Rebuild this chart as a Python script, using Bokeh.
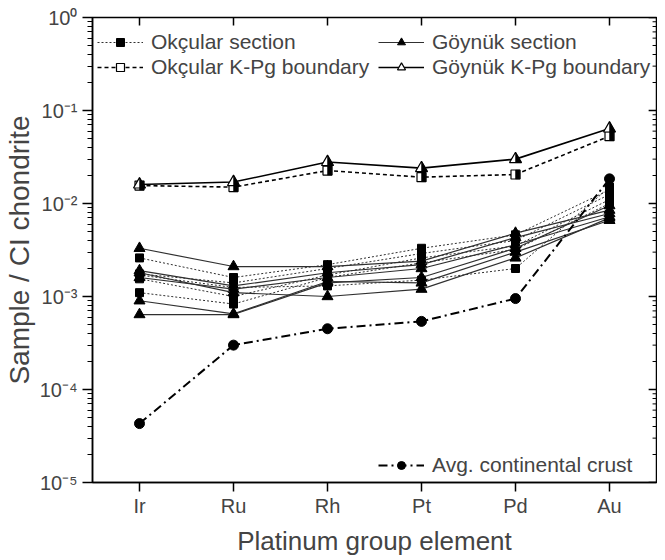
import math
from bokeh.plotting import figure
from bokeh.models import Range1d, FixedTicker, Legend, LegendItem
from bokeh.embed import file_html
from bokeh.resources import INLINE

# ---------------- data ----------------
elements = ["Ir", "Ru", "Rh", "Pt", "Pd", "Au"]

okcular_section = [
    [2.6e-3, 1.6e-3, 2.2e-3, 3.3e-3, 4.6e-3, 1.40e-2],
    [1.75e-3, 1.4e-3, 2.0e-3, 2.9e-3, 4.0e-3, 1.25e-2],
    [1.55e-3, 1.0e-3, 1.7e-3, 2.6e-3, 3.5e-3, 1.10e-2],
    [1.1e-3, 8.3e-4, 1.6e-3, 2.3e-3, 3.2e-3, 1.00e-2],
    [1.7e-3, 1.25e-3, 1.3e-3, 1.5e-3, 2.0e-3, 1.50e-2],
]
goynuk_section = [
    [3.3e-3, 2.1e-3, 2.1e-3, 2.4e-3, 4.8e-3, 8.5e-3],
    [1.9e-3, 1.3e-3, 1.8e-3, 2.2e-3, 4.3e-3, 7.8e-3],
    [1.6e-3, 1.2e-3, 1.6e-3, 2.0e-3, 3.6e-3, 7.2e-3],
    [9.0e-4, 6.5e-4, 1.45e-3, 1.4e-3, 3.0e-3, 6.6e-3],
    [6.4e-4, 6.4e-4, 1.4e-3, 1.6e-3, 3.3e-3, 9.5e-3],
    [1.8e-3, 1.1e-3, 1.0e-3, 1.2e-3, 2.6e-3, 7.0e-3],
]
okcular_kpg = [1.56e-2, 1.50e-2, 2.26e-2, 1.92e-2, 2.05e-2, 5.3e-2]
goynuk_kpg = [1.60e-2, 1.70e-2, 2.79e-2, 2.40e-2, 3.00e-2, 6.4e-2]
crust = [4.3e-5, 3.0e-4, 4.5e-4, 5.4e-4, 9.5e-4, 1.84e-2]

y_tick_values = [1e-5, 1e-4, 1e-3, 1e-2, 1e-1, 1.0]
y_tick_labels = ["10\u207b\u2075", "10\u207b\u2074", "10\u207b\u00b3", "10\u207b\u00b2", "10\u207b\u00b9", "10\u2070"]

x_pos = list(range(len(elements)))

# ---------------- layout ----------------
X_START, X_END = -0.5, 5.5
Y_START, Y_END = 1e-5, 1.0

W, H = 657, 558
ML, MR, MT = 82, 1, 17
FH = 466
MB = H - MT - FH
FW = W - ML - MR
ppu = FW / (X_END - X_START)                       # pixels per category unit
ppd = FH / math.log10(Y_END / Y_START)             # pixels per decade

FONT = "Liberation Sans"

p = figure(width=W, height=H, x_range=Range1d(X_START, X_END), y_range=Range1d(Y_START, Y_END),
           y_axis_type="log", output_backend="svg", toolbar_location=None,
           min_border_left=ML, min_border_right=MR, min_border_top=MT, min_border_bottom=MB)
p.xgrid.visible = False
p.ygrid.visible = False
p.outline_line_color = "black"
p.outline_line_width = 1.5
p.background_fill_color = "white"
p.border_fill_color = "white"

minor = [m * 10.0 ** e for e in range(-5, 0) for m in range(2, 10)]

# left axis
ya = p.yaxis[0]
ya.ticker = FixedTicker(ticks=y_tick_values, minor_ticks=minor)
ya.major_label_overrides = dict(zip(y_tick_values, y_tick_labels))
ya.major_tick_out = 10
ya.major_tick_in = 0
ya.minor_tick_out = 5
ya.minor_tick_in = 0
ya.axis_line_width = 1.5
ya.major_tick_line_width = 1.5
ya.major_label_text_font = FONT
ya.major_label_text_font_size = "20px"
ya.major_label_standoff = 5
ya.axis_label = "Sample / CI chondrite"
ya.axis_label_text_font = FONT
ya.axis_label_text_font_size = "28px"
ya.axis_label_text_font_style = "normal"
ya.axis_label_standoff = 2

# bottom axis
xa = p.xaxis[0]
xa.ticker = FixedTicker(ticks=x_pos)
xa.major_label_overrides = dict(zip(x_pos, elements))
xa.major_tick_out = 9
xa.major_tick_in = 0
xa.minor_tick_out = 0
xa.axis_line_width = 1.5
xa.major_tick_line_width = 1.5
xa.major_label_text_font = FONT
xa.major_label_text_font_size = "20px"
xa.major_label_standoff = 3
xa.axis_label = "Platinum group element"
xa.axis_label_text_font = FONT
xa.axis_label_text_font_size = "26px"
xa.axis_label_text_font_style = "normal"
xa.axis_label_standoff = 6

# mirrored inward ticks on the top and right frame edges (from the tick lists)
TOP_TICK, RIGHT_MAJOR, RIGHT_MINOR = 8, 8, 4
p.segment(x0=x_pos, x1=x_pos, y0=[Y_END] * len(x_pos),
          y1=[Y_END * 10 ** (-TOP_TICK / ppd)] * len(x_pos), line_color="black", line_width=1.5)
p.segment(x0=[X_END] * len(y_tick_values), x1=[X_END - RIGHT_MAJOR / ppu] * len(y_tick_values),
          y0=y_tick_values, y1=y_tick_values, line_color="black", line_width=1.5)
p.segment(x0=[X_END] * len(minor), x1=[X_END - RIGHT_MINOR / ppu] * len(minor),
          y0=minor, y1=minor, line_color="black", line_width=1)

# ---------------- series ----------------
SEC = "#303030"
ok_items, gy_items = [], []

first = None
for vals in okcular_section:
    l = p.line(x_pos, vals, line_color=SEC, line_width=1, line_dash="2 2")
    m = p.scatter(x_pos, vals, marker="square", size=8, fill_color="black", line_color="black")
    if first is None:
        first = [l, m]
ok_items.append(LegendItem(label="Okçular section", renderers=first))

first = None
for vals in goynuk_section:
    l = p.line(x_pos, vals, line_color=SEC, line_width=1.2)
    m = p.scatter(x_pos, vals, marker="triangle", size=11, fill_color="black", line_color="black")
    if first is None:
        first = [l, m]
gy_items.append(LegendItem(label="Göynük section", renderers=first))

# K-Pg boundary series (half-filled markers)
SQ = 9
TR = 12
l1 = p.line(x_pos, okcular_kpg, line_color="black", line_width=1.6, line_dash="4 3")
m1 = p.scatter(x_pos, okcular_kpg, marker="square", size=SQ, fill_color="white", line_color="black", line_width=1.2)
r = SQ / 2.0
p.quad(left=x_pos, right=[x + r / ppu for x in x_pos],
       top=[v * 10 ** (r / ppd) for v in okcular_kpg],
       bottom=[v * 10 ** (-r / ppd) for v in okcular_kpg],
       fill_color="black", line_color="black", line_width=0.5)
ok_items.append(LegendItem(label="Okçular K-Pg boundary", renderers=[l1, m1]))

l2 = p.line(x_pos, goynuk_kpg, line_color="black", line_width=1.6)
m2 = p.scatter(x_pos, goynuk_kpg, marker="triangle", size=TR, fill_color="white", line_color="black", line_width=1.2)
r = TR / 2.0
h = r * math.sqrt(3)
a = h / 3.0
p.patches(xs=[[x, x, x + r / ppu] for x in x_pos],
          ys=[[v * 10 ** ((h - a) / ppd), v * 10 ** (-a / ppd), v * 10 ** (-a / ppd)] for v in goynuk_kpg],
          fill_color="black", line_color="black", line_width=0.5)
gy_items.append(LegendItem(label="Göynük K-Pg boundary", renderers=[l2, m2]))

# Average continental crust
l3 = p.line(x_pos, crust, line_color="black", line_width=2, line_dash="9 4 2 4")
m3 = p.scatter(x_pos, crust, marker="circle", size=10, fill_color="black", line_color="black")
crust_items = [LegendItem(label="Avg. continental crust", renderers=[l3, m3])]


def style(leg):
    leg.background_fill_alpha = 0
    leg.border_line_alpha = 0
    leg.padding = 0
    leg.margin = 0
    leg.spacing = 1
    leg.glyph_width = 46
    leg.glyph_height = 20
    leg.label_standoff = 8
    leg.label_text_font = FONT
    leg.label_text_font_size = "21px"
    leg.label_height = 20
    return leg


p.add_layout(style(Legend(items=ok_items, location=(5, 403))))
p.add_layout(style(Legend(items=gy_items, location=(286, 403))))
p.add_layout(style(Legend(items=crust_items, location=(286, 5))))

open("out.html", "w").write(file_html(p, INLINE))
